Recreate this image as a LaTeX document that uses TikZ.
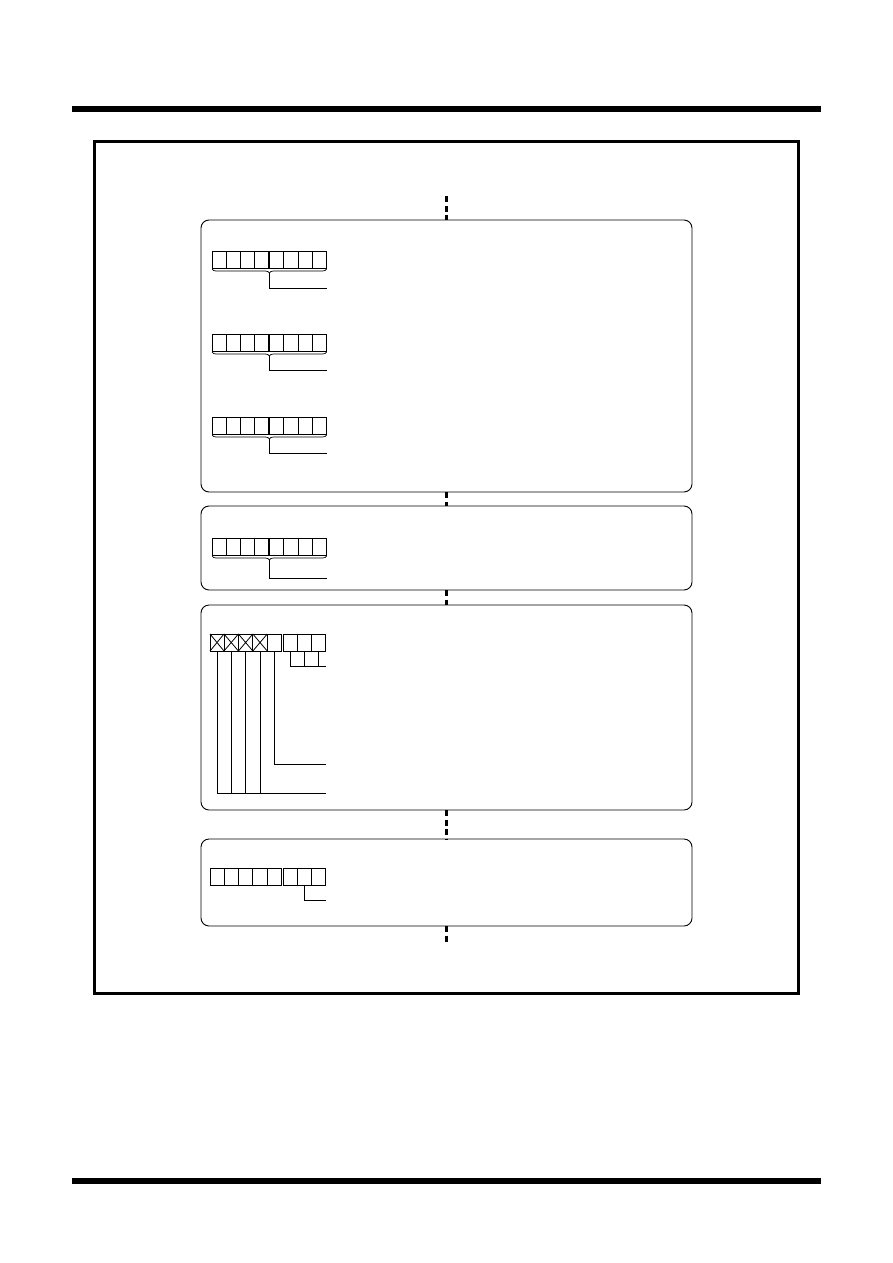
\documentclass[tikz,border=0pt]{standalone}
\usetikzlibrary{shapes,shapes.multipart,calc,positioning,decorations.pathreplacing}

\begin{document}
\begin{tikzpicture}[
    x=1pt,y=-1pt,
    box/.style={draw,rounded corners=8pt,line width=0.9pt,minimum width=491pt,inner sep=0pt,outer sep=0pt},
    reg/.style={draw,line width=0.8pt,rectangle split,rectangle split horizontal,
      rectangle split empty part width=9.3pt,rectangle split empty part height=17pt,
      rectangle split empty part depth=0pt,minimum height=17pt,inner sep=0pt,outer sep=0pt},
    link/.style={line width=2.5pt,dash pattern=on 6pt off 3.5pt},
    lead/.style={line width=0.8pt},
    brc/.style={line width=0.7pt,decorate,decoration={brace,mirror,amplitude=4pt,raise=1pt}}]
    \useasboundingbox (0,0) rectangle (892,1263);

    % page rules and frame
    \draw[line width=5.7pt] (72,109) -- (821,109);
    \draw[line width=5.7pt] (72,1181) -- (821,1181);
    \draw[line width=2.8pt] (94.5,141.3) rectangle (798.3,993.3);

    % boxes
    \node[box,minimum height=272pt] (B1) at (446.5,356) {};
    \node[box,minimum height=84pt] (B2) [below=14pt of B1] {};
    \node[box,minimum height=205pt] (B3) [below=15pt of B2] {};
    \node[box,minimum height=87pt] (B4) [below=29pt of B3] {};
    \coordinate (top) at ($(B1.north)+(0,-24)$);
    \coordinate (bot) at ($(B4.south)+(0,19)$);

    \draw[link] (top) -- (B1);
    \draw[link] (B1) -- (B2);
    \draw[link] (B2) -- (B3);
    \draw[link] (B3) -- (B4);
    \draw[link] (B4) -- (bot);

    % box 1
    \node[reg,rectangle split parts=4] (R1a) [below right=31pt and 11pt of B1.north west] {};
    \node[reg,rectangle split parts=4] (R1b) [right=1pt of R1a] {};
    \node[reg,rectangle split parts=4] (R1c) [below right=114pt and 11pt of B1.north west] {};
    \node[reg,rectangle split parts=4] (R1d) [right=1pt of R1c] {};
    \node[reg,rectangle split parts=4] (R1e) [below right=197pt and 11pt of B1.north west] {};
    \node[reg,rectangle split parts=4] (R1f) [right=1pt of R1e] {};
    \draw[brc] (R1a.south west) -- (R1b.south east);
    \draw[brc] (R1c.south west) -- (R1d.south east);
    \draw[brc] (R1e.south west) -- (R1f.south east);
    \coordinate (T1) at ($(R1a.south west)!0.5!(R1b.south east)+(0,5)$);
    \coordinate (T2) at ($(R1c.south west)!0.5!(R1d.south east)+(0,5)$);
    \coordinate (T3) at ($(R1e.south west)!0.5!(R1f.south east)+(0,5)$);
    \coordinate (E1) at ($(R1b.south east)+(0,20)$);
    \coordinate (E2) at ($(R1d.south east)+(0,19)$);
    \coordinate (E3) at ($(R1f.south east)+(0,19)$);
    \draw[lead] (T1) |- (E1);
    \draw[lead] (T2) |- (E2);
    \draw[lead] (T3) |- (E3);

    % box 2
    \node[reg,rectangle split parts=4] (R2a) [below right=32pt and 11pt of B2.north west] {};
    \node[reg,rectangle split parts=4] (R2b) [right=1pt of R2a] {};
    \draw[brc] (R2a.south west) -- (R2b.south east);
    \coordinate (T4) at ($(R2a.south west)!0.5!(R2b.south east)+(0,5)$);
    \coordinate (E4) at ($(R2b.south east)+(0,23)$);
    \draw[lead] (T4) |- (E4);

    % box 3
    \node[reg,rectangle split parts=5] (R3a) [below right=29pt and 9pt of B3.north west] {};
    \node[reg,rectangle split parts=3] (R3b) [right=2pt of R3a] {};
    \draw[lead] (R3a.north west) -- (R3a.one split south) (R3a.south west) -- (R3a.one split north);
    \draw[lead] (R3a.one split north) -- (R3a.two split south) (R3a.one split south) -- (R3a.two split north);
    \draw[lead] (R3a.two split north) -- (R3a.three split south) (R3a.two split south) -- (R3a.three split north);
    \draw[lead] (R3a.three split north) -- (R3a.four split south) (R3a.three split south) -- (R3a.four split north);
    \coordinate (P1) at ($(R3a.south west)!0.5!(R3a.one split south)$);
    \coordinate (P2) at ($(R3a.one split south)!0.5!(R3a.two split south)$);
    \coordinate (P3) at ($(R3a.two split south)!0.5!(R3a.three split south)$);
    \coordinate (P4) at ($(R3a.three split south)!0.5!(R3a.four split south)$);
    \coordinate (P5) at ($(R3a.four split south)!0.5!(R3a.south east)$);
    \coordinate (Q1) at ($(R3b.south west)!0.5!(R3b.one split south)$);
    \coordinate (Q2) at ($(R3b.one split south)!0.5!(R3b.two split south)$);
    \coordinate (Q3) at ($(R3b.two split south)!0.5!(R3b.south east)$);
    \coordinate (E5) at ($(R3b.south east)+(0,15)$);
    \coordinate (E6) at ($(R3b.south east)+(0,113)$);
    \coordinate (E7) at ($(R3b.south east)+(0,142)$);
    \draw[lead] (Q1) |- (E5);
    \draw[lead] (Q2) -- (Q2 |- E5);
    \draw[lead] (Q3) -- (Q3 |- E5);
    \draw[lead] (P5) |- (E6);
    \draw[lead] (P1) |- (E7);
    \draw[lead] (P2) -- (P2 |- E7);
    \draw[lead] (P3) -- (P3 |- E7);
    \draw[lead] (P4) -- (P4 |- E7);

    % box 4
    \node[reg,rectangle split parts=5] (R4a) [below right=29pt and 9pt of B4.north west] {};
    \node[reg,rectangle split parts=3] (R4b) [right=2pt of R4a] {};
    \coordinate (Q4) at ($(R4b.one split south)!0.5!(R4b.two split south)$);
    \coordinate (E8) at ($(R4b.south east)+(0,15)$);
    \draw[lead] (Q4) |- (E8);
  \end{tikzpicture}
\end{document}
